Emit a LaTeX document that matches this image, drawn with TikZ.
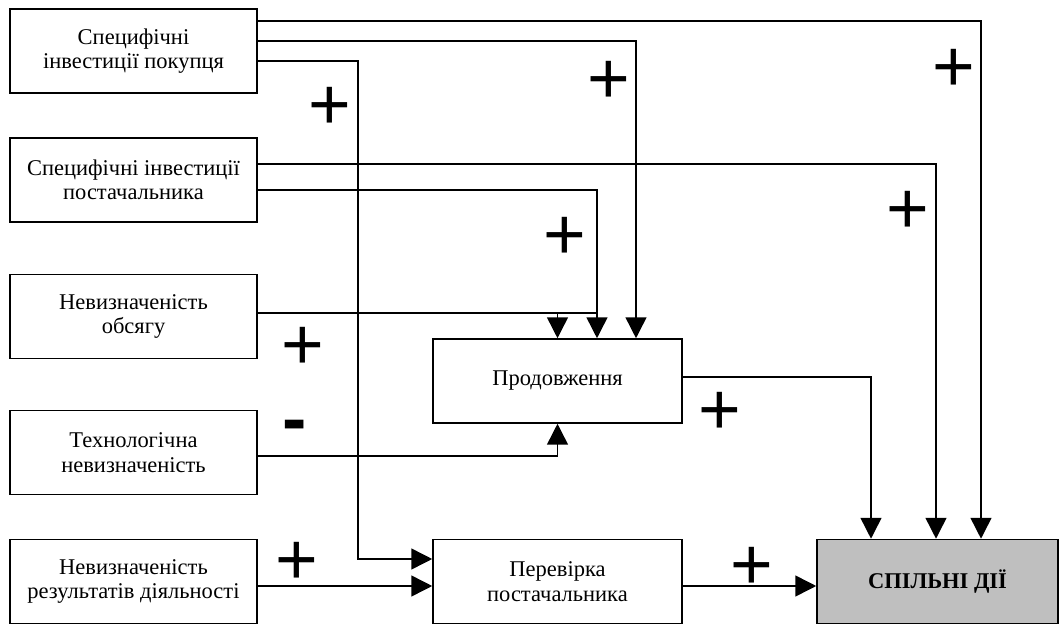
\documentclass[tikz,border=0pt]{standalone}
\usepackage{fontspec}
\setmainfont{Liberation Serif}
\newfontfamily\signfont{Liberation Sans}
\usetikzlibrary{positioning, arrows.meta, calc}
\definecolor{actGray}{HTML}{BFBFBF}

\begin{document}
\begin{tikzpicture}[x=0.25mm, y=-0.25mm,
    every node/.style={font=\fontsize{16}{17.5}\selectfont},
    factor/.style={draw, line width=1.1pt, minimum width=61.75mm, minimum height=21mm, align=center, inner sep=2pt},
    stage/.style={factor, minimum width=62.25mm},
    result/.style={factor, fill=actGray, minimum width=60.25mm, font=\fontsize{16}{17.5}\selectfont\bfseries},
    link/.style={line width=1.1pt},
    arr/.style={link, -{Triangle[length=5.2mm, width=5.2mm]}},
    sign/.style={font=\signfont\fontsize{52}{52}\selectfont, inner sep=0pt},
]
\useasboundingbox (0,0) rectangle (1063,625);
% фактори зліва
\node[factor] (pokup)   at (133.5, 51)  {Специфічні\\ інвестиції покупця};
\node[factor] (postach) at (133.5, 180) {Специфічні інвестиції\\ постачальника};
\node[factor] (obsyag)  at (133.5, 316.5) {Невизначеність\\ обсягу};
\node[factor] (tekhn)   at (133.5, 452.5) {Технологічна\\ невизначеність};
\node[factor] (rezult)  at (133.5, 581.5) {Невизначеність\\ результатів діяльності};
% проміжні та результат
\node[stage]  (prodov)    at (557.5, 381)   {Продовження};
\node[stage]  (perevirka) at (557.5, 581.5) {Перевірка\\ постачальника};
\node[result] (spilni)    at (937.5, 581.5) {СПІЛЬНІ ДІЇ};
% зв'язки
\draw[arr] ($(pokup.east)+(0,-30)$) -| ($(spilni.north)+(43.5,0)$);
\draw[arr] ($(pokup.east)+(0,-10)$) -| ($(prodov.north)+(78.5,0)$);
\draw[arr] ($(pokup.east)+(0,10)$) -- ++(100,0) |- ($(perevirka.west)+(0,-22.5)$);
\draw[arr] ($(postach.east)+(0,-16)$) -| ($(spilni.north)+(-1.5,0)$);
\draw[arr] ($(postach.east)+(0,10)$) -| ($(prodov.north)+(39.5,0)$);
\coordinate (obs) at ($(obsyag.east)+(0,-3.5)$);
\draw[arr] (obs) -| (prodov.north);
\draw[link] (obs -| prodov.north) -- ++(39.5,0);
\draw[arr] ($(tekhn.east)+(0,3.5)$) -| (prodov.south);
\draw[arr] ($(rezult.east)+(0,4.5)$) -- ($(perevirka.west)+(0,4.5)$);
\draw[arr] ($(prodov.east)+(0,-4)$) -| ($(spilni.north)+(-66.5,0)$);
\draw[arr] ($(perevirka.east)+(0,4.5)$) -- ($(spilni.west)+(0,4.5)$);
% знаки впливу
\node[sign] (s1)  at (330, 108) {+};
\node[sign] (s2)  at (609, 82)  {+};
\node[sign] (s3)  at (954, 70)  {+};
\node[sign] (s4)  at (565, 238) {+};
\node[sign] (s5)  at (908, 212) {+};
\node[sign] (s6)  at (303, 348) {+};
\node[sign] (s7)  at (720, 413) {+};
\node[sign, font=\signfont\bfseries\fontsize{52}{52}\selectfont] (s8) at (295, 432) {-};
\node[sign] (s9)  at (297, 563) {+};
\node[sign] (s10) at (752, 568) {+};
\end{tikzpicture}
\end{document}
